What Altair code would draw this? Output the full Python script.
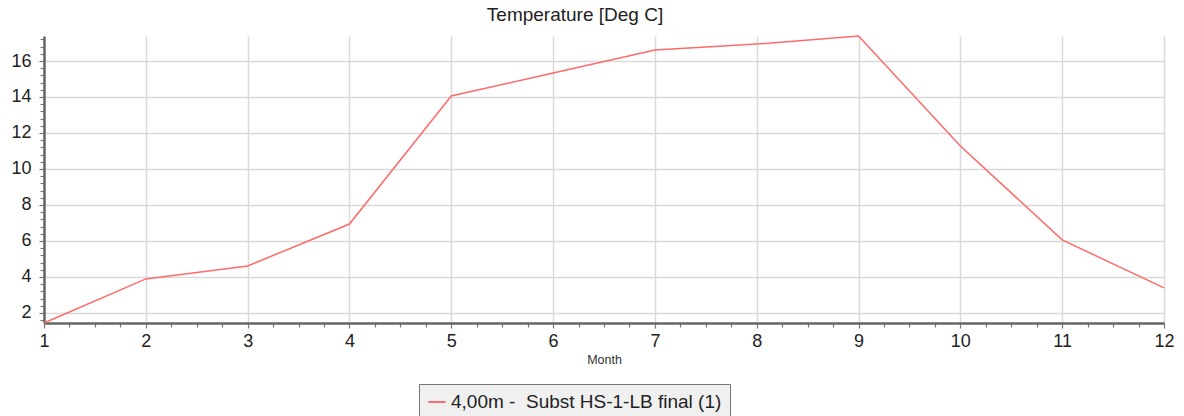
import altair as alt
import pandas as pd
import numpy as np

months = [1, 2, 3, 4, 5, 6, 7, 8, 9, 10, 11, 12]
temps = [1.44, 3.89, 4.61, 6.94, 14.06, 15.33, 16.61, 16.94, 17.39, 11.28, 6.06, 3.39]
series_name = "4,00m -\u00a0 Subst HS-1-LB final (1)"

df = pd.DataFrame({"Month": months, "Temp": temps, "Series": series_name})

x_vals = [round(v, 2) for v in np.arange(1, 12.001, 0.25)]
y_vals = [round(v, 2) for v in np.arange(1.6, 17.4, 0.4)]

font = "Liberation Sans"
ymajor = "abs(datum.value - round(datum.value/2)*2) < 0.01"

chart = alt.Chart(df).mark_line(strokeWidth=1.5, color="#ff6a6a").encode(
    x=alt.X("Month:Q",
            scale=alt.Scale(domain=[1, 12], nice=False, zero=False),
            axis=alt.Axis(
                values=x_vals,
                title="Month", titleFontSize=12.5, titleFontWeight="normal",
                titleColor="#333", titleFont=font, titlePadding=3,
                labelExpr="datum.value % 1 == 0 ? format(datum.value, 'd') : ''",
                labelFontSize=18, labelColor="#222", labelFont=font,
                labelPadding=4, labelFlush=False, labelOverlap=False,
                domainColor="#666", domainWidth=2.5,
                tickColor="#777", tickWidth=1.2,
                tickSize={"condition": {"test": "datum.value % 1 == 0", "value": 5}, "value": 4},
                grid=True, gridColor="#d9d9d9", gridWidth=1.5,
                gridOpacity={"condition": {"test": "datum.value % 1 == 0", "value": 1}, "value": 0},
            )),
    y=alt.Y("Temp:Q",
            scale=alt.Scale(domain=[1.44, 17.39], nice=False, zero=False),
            axis=alt.Axis(
                values=y_vals, title=None,
                labelExpr=ymajor + " ? format(datum.value, 'd') : ''",
                labelFontSize=18, labelColor="#222", labelFont=font,
                labelPadding=8, labelOverlap=False, labelFlush=False,
                domainColor="#666", domainWidth=2.5,
                tickColor="#777", tickWidth=1.2,
                tickSize={"condition": {"test": ymajor, "value": 5}, "value": 4},
                grid=True, gridColor="#d9d9d9", gridWidth=1.5,
                gridOpacity={"condition": {"test": ymajor, "value": 1}, "value": 0},
            )),
    color=alt.Color("Series:N",
                    scale=alt.Scale(range=["#ff6a6a"]),
                    legend=alt.Legend(
                        title=None, orient="none", legendX=375, legendY=348,
                        symbolType="stroke", symbolSize=300, symbolStrokeWidth=2,
                        labelFontSize=19, labelFont=font, labelColor="#222",
                        fillColor="#f0f0f0", strokeColor="#777", padding=8,
                        labelLimit=500,
                    )),
).properties(
    width=1120, height=287,
    title=alt.TitleParams("Temperature [Deg C]", fontSize=19, font=font,
                          fontWeight="normal", color="#222", offset=5, dx=-29),
    autosize=alt.AutoSizeParams(type="none"),
    padding={"left": 44, "top": 36, "right": 20, "bottom": 93},
).configure_view(stroke=None)

chart.save("out.html", embed_options={"renderer": "svg", "actions": False})
